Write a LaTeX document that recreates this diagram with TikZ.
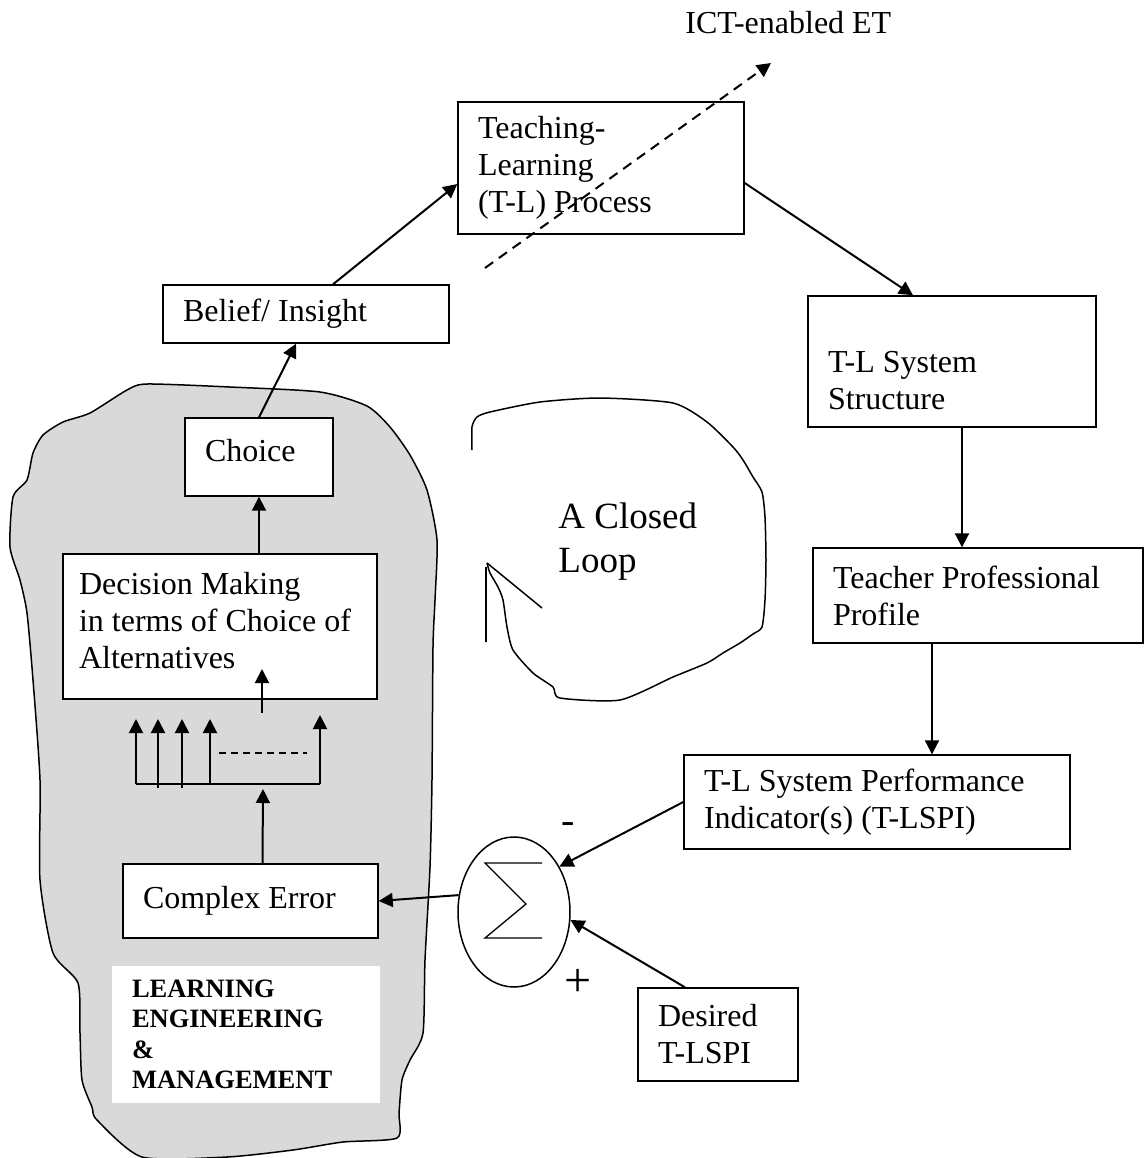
\documentclass[tikz,border=0pt]{standalone}
\usepackage{fontspec}
\setmainfont{Liberation Serif}
\usetikzlibrary{arrows.meta,shapes.geometric}

\begin{document}
\begin{tikzpicture}[x=0.5pt, y=-0.5pt,
    every node/.style = {font=\fontsize{16}{18.5}\selectfont},
    box/.style = {draw, fill=white, line width=0.7pt, align=flush left, inner xsep=10pt, inner ysep=0pt},
    link/.style = {line width=1pt, -{Triangle[length=7pt,width=7pt]}},
    sketch/.style = {line width=0.75pt}]
    \useasboundingbox (0,0) rectangle (1147,1158);

    % shaded region
    \filldraw[sketch, fill=gray!30] plot[smooth cycle, tension=0.4] coordinates {
        (147,384) (230,387) (320,392) (367,406) (390,427) (410,455) (427,490)
        (437,540) (435,600) (433,647) (432,780) (430,867) (425,960) (423,1033)
        (410,1060) (402,1080) (399,1113) (397,1138) (343,1142) (293,1150)
        (227,1157) (142,1157) (97,1120) (92,1107) (82,1080) (80,1033) (78,983)
        (53,953) (40,880) (40,780) (33,680) (27,613) (20,580) (10,547) (13,497)
        (27,480) (33,453) (43,435) (63,422) (90,413) (127,390)};

    % the loop
    \draw[sketch] plot[smooth, tension=0.4] coordinates {
        (472,450) (472,427) (477,417) (490,412) (540,402) (600,398) (673,403)
        (707,422) (733,447) (743,460) (753,477) (762,492) (765,517) (766,560)
        (765,600) (762,627) (753,634) (740,643) (723,653) (707,663) (673,677)
        (620,700) (560,698) (553,687) (533,673) (513,650) (507,627) (503,600)
        (498,587) (490,573) (487,563)};
    \draw[sketch] (487,563) -- (542,608);
    \draw[sketch] (486,567) -- (486,642);
    \node[anchor=north west, inner sep=0pt, align=left, font=\fontsize{18.5}{22}\selectfont] (cl) at (558,502) {A Closed\\Loop};

    \node[anchor=base west, inner sep=0pt] (ict) at (685,33) {ICT-enabled ET};
    \node[box, minimum height=66pt, text width=123pt] (tlp) at (601,168) {Teaching-\\Learning\\(T-L) Process};
    \node[box, minimum height=29pt, text width=123pt] (bel) at (306,314) {Belief/ Insight};
    \node[box, minimum height=39pt, text width=54pt] (cho) at (259,457) {Choice\rule[-7pt]{0pt}{7pt}};
    \node[box, minimum height=72.5pt, text width=141pt, inner xsep=8pt] (dec) at (220,626.5) {Decision Making\\in terms of Choice of\\Alternatives\rule[-6.5pt]{0pt}{6.5pt}};
    \node[box, minimum height=37pt, text width=107.5pt] (err) at (250.5,901) {Complex Error};
    \node[box, draw=none, minimum height=68.5pt, text width=114pt, font=\fontsize{13.25}{15.25}\selectfont\bfseries] (lem) at (246,1034.5) {LEARNING\\ENGINEERING\\\&\\MANAGEMENT};
    \node[box, minimum height=65.5pt, text width=124pt] (str) at (952,361.5) {\rule{0pt}{29.5pt}T-L System\\Structure};
    \node[box, minimum height=47.5pt, text width=145pt] (tea) at (978,595.5) {Teacher Professional\\Profile};
    \node[box, minimum height=47pt, text width=173pt] (spi) at (877,802) {T-L System Performance\\Indicator(s) (T-LSPI)};
    \node[box, minimum height=46.5pt, text width=60pt] (des) at (718,1034.5) {Desired\\T-LSPI};
    \node[draw, sketch, ellipse, minimum width=56pt, minimum height=75pt, inner sep=0pt] (sum) at (514,912) {};
    \draw[line width=0.65pt, shift={(sum)}] (28,-49) -- (-29,-49) -- (12,-8) -- (-29,26) -- (28,26);
    \node[font=\fontsize{20}{20}\selectfont] (minus) at (568,828) {-};
    \node[font=\fontsize{24}{24}\selectfont] (plus) at (578,983) {+};

    \coordinate (ia) at (485,268);
    \coordinate (ib) at (771,63);
    \draw[link, dash pattern=on 5pt off 3.5pt] (ia) -- (ib);

    \draw[link] ([xshift=13.5pt]bel.north) -- ([yshift=-8pt]tlp.west);
    \draw[link] (cho.north) -- ([xshift=-5pt]bel.south);
    \draw[link] (dec.north -| cho.south) -- (cho.south);
    \draw[link] ([yshift=-7.5pt]tlp.east) -- ([xshift=-19.5pt]str.north);
    \coordinate (sa) at ([xshift=5pt]str.south);
    \draw[link] (sa) -- (sa |- tea.north);
    \coordinate (ta) at ([xshift=-23pt]tea.south);
    \draw[link] (ta) -- (ta |- spi.north);
    \draw[link] (spi.west) -- (sum.45);
    \draw[link] ([xshift=-16.5pt]des.north) -- (sum.352);
    \draw[link] (sum.163) -- (err.east);

    % alternatives
    \coordinate (ea) at ([xshift=6pt]err.north);
    \coordinate (eb) at (263,789);
    \draw[link] (ea) -- (eb);
    \draw[line width=1pt] (136,784) -- (320,784);
    \foreach \x/\y/\t in {136/784/719, 158/788/719, 182/788/719, 210/784/719, 320/784/715}
        \draw[link] (\x,\y) -- (\x,\t);
    \draw[line width=1pt, dash pattern=on 3.5pt off 2.5pt] (219,753) -- (307,753);
    \draw[link] (262,713) -- (262,669);

\end{tikzpicture}
\end{document}
